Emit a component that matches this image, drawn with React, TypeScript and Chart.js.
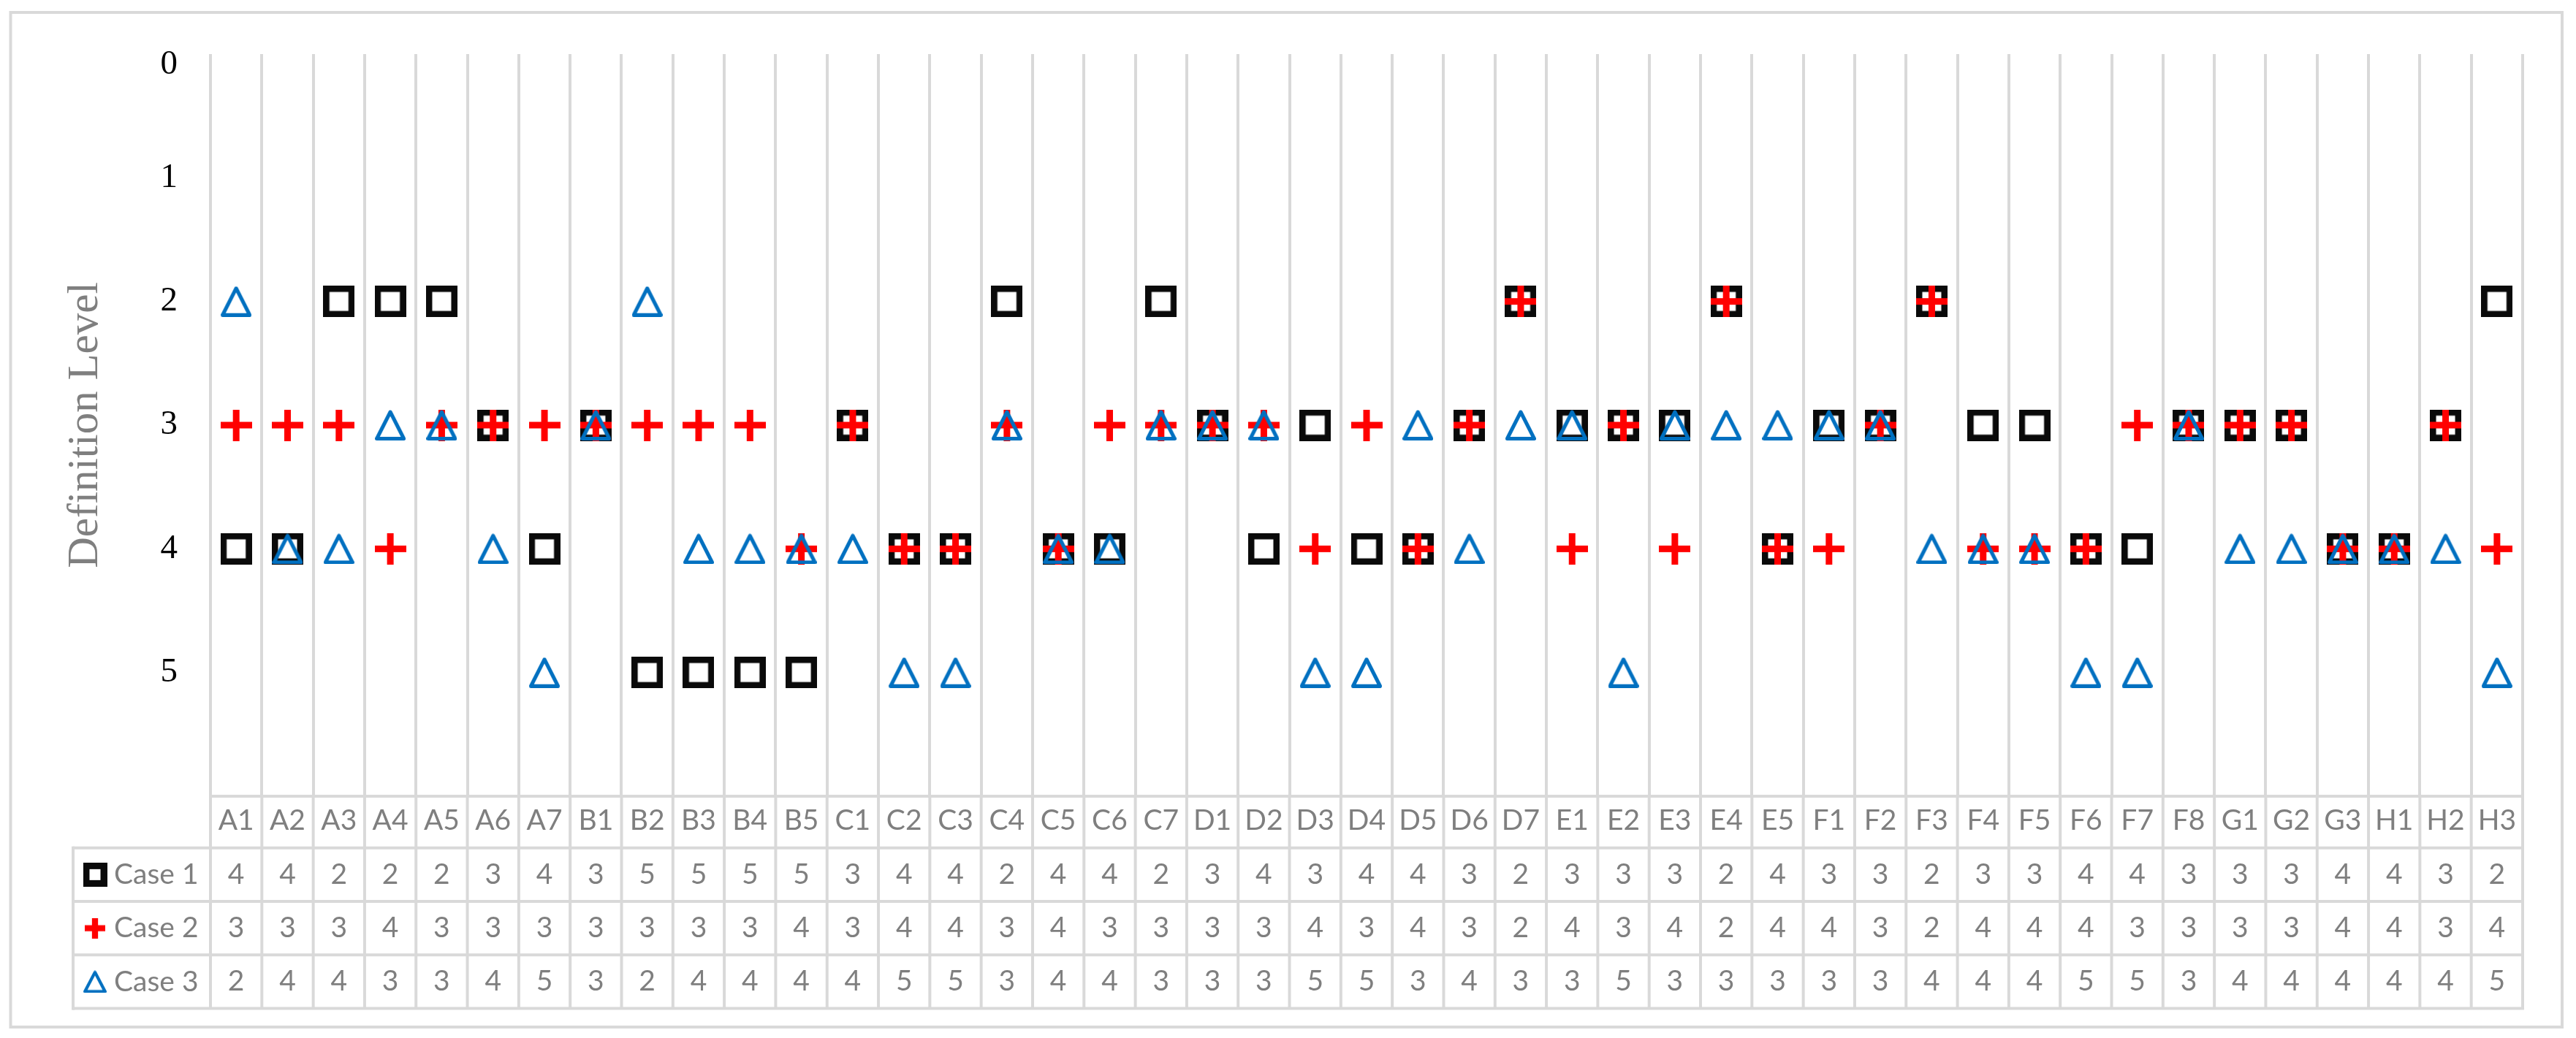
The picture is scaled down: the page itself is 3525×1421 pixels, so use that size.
import React, { useEffect, useRef } from 'react';
import { Chart, registerables } from 'chart.js';

Chart.register(...registerables);

// ---------- data ----------
const categories = [
  'A1', 'A2', 'A3', 'A4', 'A5', 'A6', 'A7',
  'B1', 'B2', 'B3', 'B4', 'B5',
  'C1', 'C2', 'C3', 'C4', 'C5', 'C6', 'C7',
  'D1', 'D2', 'D3', 'D4', 'D5', 'D6', 'D7',
  'E1', 'E2', 'E3', 'E4', 'E5',
  'F1', 'F2', 'F3', 'F4', 'F5', 'F6', 'F7', 'F8',
  'G1', 'G2', 'G3',
  'H1', 'H2', 'H3',
];
const case1 = [4, 4, 2, 2, 2, 3, 4, 3, 5, 5, 5, 5, 3, 4, 4, 2, 4, 4, 2, 3, 4, 3, 4, 4, 3, 2, 3, 3, 3, 2, 4, 3, 3, 2, 3, 3, 4, 4, 3, 3, 3, 4, 4, 3, 2];
const case2 = [3, 3, 3, 4, 3, 3, 3, 3, 3, 3, 3, 4, 3, 4, 4, 3, 4, 3, 3, 3, 3, 4, 3, 4, 3, 2, 4, 3, 4, 2, 4, 4, 3, 2, 4, 4, 4, 3, 3, 3, 3, 4, 4, 3, 4];
const case3 = [2, 4, 4, 3, 3, 4, 5, 3, 2, 4, 4, 4, 4, 5, 5, 3, 4, 4, 3, 3, 3, 5, 5, 3, 4, 3, 3, 5, 3, 3, 3, 3, 3, 4, 4, 4, 5, 5, 3, 4, 4, 4, 4, 4, 5];
const seriesNames = ['Case 1', 'Case 2', 'Case 3'];
const yMin = 0;
const yMax = 6;
const yLastLabel = 5;
const yTitle = 'Definition Level';

// ---------- style ----------
const W = 3525;
const H = 1421;
const GRID = '#d9d9d9';
const TEXT_GRAY = '#7f7f7f';
const BLACK = '#0a0a0a';
const RED = '#ff0000';
const BLUE = '#0070c0';
const SERIF = '"Liberation Serif", "Times New Roman", serif';
const SANS = 'Lato, "Open Sans", "Noto Sans", sans-serif';

const PAD_LEFT = 60;
const PAD_TOP = 73;
const PAD_RIGHT = 73;
const PAD_BOTTOM = 40;
const Y_AXIS_W = 228;
const X_AXIS_H = 291;
const HEADER_H = 70.7;
const ROW_H = 73.3;
const TABLE_LEFT = 100;

function makeSquare(size: number, lw: number, color: string) {
  const c = document.createElement('canvas');
  c.width = size;
  c.height = size;
  const ctx = c.getContext('2d')!;
  ctx.strokeStyle = color;
  ctx.lineWidth = lw;
  ctx.lineJoin = 'miter';
  ctx.strokeRect(lw / 2, lw / 2, size - lw, size - lw);
  return c;
}

function makeCross(size: number, lw: number, color: string) {
  const c = document.createElement('canvas');
  c.width = size;
  c.height = size;
  const ctx = c.getContext('2d')!;
  ctx.fillStyle = color;
  ctx.fillRect(0, (size - lw) / 2, size, lw);
  ctx.fillRect((size - lw) / 2, 0, lw, size);
  return c;
}

function makeTriangle(w: number, h: number, lw: number, color: string) {
  const c = document.createElement('canvas');
  c.width = w;
  c.height = h;
  const ctx = c.getContext('2d')!;
  ctx.strokeStyle = color;
  ctx.lineWidth = lw;
  ctx.lineJoin = 'round';
  ctx.beginPath();
  ctx.moveTo(w / 2, lw / 2 + 0.5);
  ctx.lineTo(w - lw / 2, h - lw / 2);
  ctx.lineTo(lw / 2, h - lw / 2);
  ctx.closePath();
  ctx.stroke();
  return c;
}

export default function App() {
  const canvasRef = useRef<HTMLCanvasElement | null>(null);

  useEffect(() => {
    const canvas = canvasRef.current;
    if (!canvas) return;

    const sq = makeSquare(43, 8.5, BLACK);
    const cr = makeCross(43, 9, RED);
    const tr = makeTriangle(42, 42, 5, BLUE);
    const keys = [makeSquare(33, 9, BLACK), makeCross(28, 8.3, RED), makeTriangle(32, 31, 4.2, BLUE)];

    const tablePlugin = {
      id: 'dataTableFrame',
      afterDraw(chart: any) {
        const { ctx, chartArea } = chart;
        const x = chart.scales.x;
        const n = categories.length;
        const top = chartArea.bottom;
        const rowLines = [0, 1, 2, 3].map((i) => top + HEADER_H + i * ROW_H);
        const bottom = rowLines[3];
        ctx.save();
        ctx.strokeStyle = GRID;
        ctx.lineWidth = 4;
        // outer chart frame
        ctx.strokeRect(14.5, 17, 3506 - 14.5, 1406 - 17);
        // header top line
        ctx.beginPath();
        ctx.moveTo(x.left - 2, top);
        ctx.lineTo(x.right + 2, top);
        ctx.stroke();
        // row lines
        rowLines.forEach((yy) => {
          ctx.beginPath();
          ctx.moveTo(TABLE_LEFT, yy);
          ctx.lineTo(x.right + 2, yy);
          ctx.stroke();
        });
        // table left border
        ctx.beginPath();
        ctx.moveTo(TABLE_LEFT, rowLines[0] - 2);
        ctx.lineTo(TABLE_LEFT, bottom + 2);
        ctx.stroke();
        // column lines through the table
        const cw = (x.right - x.left) / n;
        for (let i = 0; i <= n; i++) {
          const xx = x.left + i * cw;
          ctx.beginPath();
          ctx.moveTo(xx, top);
          ctx.lineTo(xx, bottom);
          ctx.stroke();
        }
        // legend keys + series names
        ctx.fillStyle = TEXT_GRAY;
        ctx.font = `39px ${SANS}`;
        ctx.textBaseline = 'middle';
        ctx.textAlign = 'left';
        seriesNames.forEach((name, i) => {
          const cy = rowLines[i] + ROW_H / 2;
          const k = keys[i];
          ctx.drawImage(k, 130 - k.width / 2, cy - k.height / 2);
          ctx.fillText(name, 156, cy);
        });
        ctx.restore();
      },
    };

    const chart = new Chart(canvas, {
      type: 'line',
      data: {
        labels: categories,
        datasets: [
          { label: seriesNames[0], data: case1, showLine: false, pointStyle: sq as any, pointRadius: 22, pointHoverRadius: 22, order: 3 },
          { label: seriesNames[1], data: case2, showLine: false, pointStyle: cr as any, pointRadius: 22, pointHoverRadius: 22, order: 2 },
          { label: seriesNames[2], data: case3, showLine: false, pointStyle: tr as any, pointRadius: 22, pointHoverRadius: 22, order: 1 },
        ],
      },
      options: {
        animation: false,
        responsive: false,
        devicePixelRatio: 1,
        events: [],
        layout: { padding: { left: PAD_LEFT, top: PAD_TOP, right: PAD_RIGHT, bottom: PAD_BOTTOM } },
        plugins: { legend: { display: false }, tooltip: { enabled: false }, title: { display: false } },
        scales: {
          x: {
            type: 'category',
            offset: true,
            afterFit: (s: any) => { s.height = X_AXIS_H; },
            grid: { display: true, offset: true, color: GRID, lineWidth: 4, drawTicks: false },
            border: { display: false },
            ticks: {
              autoSkip: false,
              maxRotation: 0,
              minRotation: 0,
              padding: -3,
              color: TEXT_GRAY,
              font: { family: SANS, size: 39, lineHeight: `${ROW_H}px` },
              callback: (_v: any, i: number) => [categories[i], String(case1[i]), String(case2[i]), String(case3[i])],
            },
          },
          y: {
            type: 'linear',
            reverse: true,
            min: yMin,
            max: yMax,
            afterFit: (s: any) => { s.width = Y_AXIS_W; },
            grid: { display: false, drawTicks: false },
            border: { display: false },
            ticks: {
              stepSize: 1,
              padding: 45,
              color: '#000000',
              font: { family: SERIF, size: 47, lineHeight: '29px' },
              // the top label sits a little inside the plot, as in the reference
              callback: (v: any) => {
                const n = Number(v);
                if (n > yLastLabel) return '';
                return n === yMin ? ['', String(v)] : String(v);
              },
            },
            title: {
              display: true,
              text: yTitle,
              color: TEXT_GRAY,
              font: { family: SERIF, size: 59, lineHeight: 1.2 },
              padding: { top: 21.6, bottom: 0 },
            },
          },
        },
      },
      plugins: [tablePlugin],
    } as any);

    return () => chart.destroy();
  }, []);

  return (
    <div style={{ position: 'absolute', left: 0, top: 0, width: W, height: H, background: '#ffffff' }}>
      <canvas ref={canvasRef} width={W} height={H} style={{ display: 'block', width: W, height: H }} />
    </div>
  );
}
